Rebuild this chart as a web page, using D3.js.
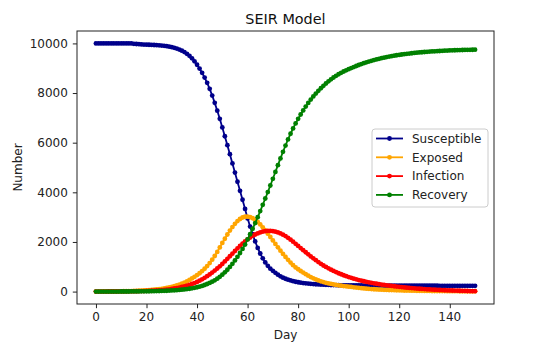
<!DOCTYPE html>
<html>
<head>
<meta charset="utf-8">
<script src="https://cdn.jsdelivr.net/npm/d3@7"></script>
<style>
  body { margin: 0; background: #fff; }
  svg { font-family: "DejaVu Sans", sans-serif; }
</style>
</head>
<body>
<div id="chart-container"><svg></svg></div>
<script>
// values, one per day (0..150)
const susceptible = [
  9999,9999,9999,9999,9999,9999,9999,9999,9999,9999,
  9999,9999,9999,9999,9999,9985,9976,9968,9961,9955,
  9950,9945,9940,9935,9929,9922,9913,9902,9888,9870,
  9848,9822,9790,9752,9706,9650,9582,9500,9400,9280,
  9140,8985,8815,8625,8410,8170,7900,7605,7290,6960,
  6615,6260,5900,5535,5165,4795,4425,4060,3700,3330,
  2950,2620,2310,2020,1760,1535,1340,1175,1040,925,
  835,755,680,615,562,518,480,448,420,397,
  377,360,345,332,321,311,302,295,288,282,
  277,272,268,264,261,258,256,254,252,250,
  249,248,247,246,246,245,244,244,243,243,
  242,242,241,241,240,240,240,239,239,239,
  238,238,238,237,237,237,237,236,236,236,
  236,235,235,235,235,235,234,234,234,234,
  234,234,233,233,233,233,233,233,233,232,
  232
];
const exposed = [
  0,1,2,3,4,5,6,7,8,10,
  12,14,16,19,22,25,29,33,38,44,
  50,57,65,74,84,96,110,126,144,165,
  190,215,245,280,320,365,415,470,530,595,
  665,740,825,920,1030,1150,1285,1435,1600,1780,
  1960,2130,2300,2460,2600,2730,2840,2925,2985,3015,
  3020,3000,2955,2890,2805,2705,2590,2465,2335,2200,
  2060,1920,1785,1650,1520,1395,1280,1170,1065,975,
  900,830,765,700,640,585,535,490,450,415,
  383,355,330,308,288,270,253,238,224,211,
  199,186,173,161,150,139,129,119,110,102,
  95,89,83,78,73,68,64,60,56,53,
  50,47,44,42,40,38,36,34,32,30,
  28,27,25,24,23,22,21,20,19,18,
  17,16,15,15,14,13,13,12,12,11,
  11
];
const infection = [
  1,1,2,2,2,3,3,4,4,5,
  6,7,8,9,10,12,14,16,19,22,
  25,29,33,38,44,50,58,67,78,92,
  110,125,143,163,185,210,238,270,305,345,
  390,440,495,555,620,690,765,845,930,1020,
  1115,1215,1320,1425,1530,1635,1740,1840,1935,2025,
  2105,2180,2245,2300,2345,2385,2415,2435,2445,2445,
  2435,2415,2385,2345,2295,2235,2165,2090,2010,1925,
  1840,1755,1670,1585,1500,1418,1340,1264,1190,1120,
  1052,992,936,882,832,785,740,698,658,621,
  586,553,522,493,466,441,417,394,373,353,
  334,316,299,283,268,254,241,228,215,203,
  191,180,169,159,149,140,131,123,115,107,
  100,93,87,81,75,70,65,60,55,51,
  47,43,40,36,33,30,27,24,21,18,
  15
];
const recovery = [
  0,0,0,0,1,1,1,2,2,2,
  3,3,4,4,5,6,7,8,9,10,
  12,13,15,17,20,23,26,30,34,39,
  45,51,58,66,76,87,100,115,132,152,
  175,200,230,265,305,350,400,455,520,595,
  680,775,880,995,1120,1255,1400,1555,1720,1895,
  2100,2310,2530,2760,3000,3245,3495,3750,4010,4275,
  4545,4820,5095,5365,5630,5885,6130,6360,6575,6775,
  6960,7135,7300,7455,7600,7735,7862,7980,8090,8193,
  8290,8385,8472,8552,8626,8694,8757,8815,8868,8915,
  8960,9005,9048,9090,9130,9168,9204,9238,9270,9300,
  9328,9355,9380,9404,9427,9448,9468,9487,9505,9522,
  9538,9553,9567,9580,9592,9604,9615,9625,9635,9644,
  9653,9661,9669,9676,9683,9689,9695,9701,9706,9711,
  9716,9720,9724,9728,9731,9734,9737,9740,9742,9744,
  9746
];
const seriesNames = ["Susceptible", "Exposed", "Infection", "Recovery"];
const seriesColors = ["#00008b", "#ffa500", "#ff0000", "#008000"];
const xTicks = [0, 20, 40, 60, 80, 100, 120, 140];
const yTicks = [0, 2000, 4000, 6000, 8000, 10000];

const width = 552, height = 354;
const margin = { top: 31, right: 58, bottom: 50, left: 77 };
const innerWidth = width - margin.left - margin.right;
const innerHeight = height - margin.top - margin.bottom;

const allSeries = [susceptible, exposed, infection, recovery];

const xScale = d3.scaleLinear().domain([-7.5, 157.5]).range([0, innerWidth]);
const yScale = d3.scaleLinear().domain([-500, 10500]).range([innerHeight, 0]);

const svg = d3.select("#chart-container").select("svg")
  .attr("width", width).attr("height", height);

svg.append("text").attr("x", margin.left + innerWidth / 2).attr("y", 24)
  .attr("text-anchor", "middle").style("font-size", "14.4px").attr("fill", "#111")
  .text("SEIR Model");

const g = svg.append("g").attr("transform", `translate(${margin.left},${margin.top})`);

// axes
const xAxis = g.append("g").attr("class", "x-axis").attr("transform", `translate(0,${innerHeight})`)
  .call(d3.axisBottom(xScale).tickValues(xTicks).tickSize(4.2).tickPadding(4.2).tickFormat(d3.format("d")));
const yAxis = g.append("g").attr("class", "y-axis")
  .call(d3.axisLeft(yScale).tickValues(yTicks).tickSize(4.2).tickPadding(5).tickFormat(d3.format("d")));
[xAxis, yAxis].forEach(a => {
  a.attr("font-size", null).attr("font-family", null).attr("text-anchor", null).attr("fill", null);
  a.select(".domain").remove();
  a.selectAll("line").attr("stroke", "#222").attr("stroke-width", 1);
  a.selectAll("text").attr("fill", "#222").style("font-size", "12px").attr("dy", null);
});
// lift the tick labels out of their tick groups, placed by the same scales
xAxis.selectAll(".tick text").each(function (d) {
  d3.select(this).attr("text-anchor", "middle").attr("x", xScale(d)).attr("y", 17.4);
  xAxis.node().appendChild(this);
});
yAxis.selectAll(".tick text").each(function (d) {
  d3.select(this).attr("text-anchor", "end").attr("x", -9.2).attr("y", yScale(d) + 4.3);
  yAxis.node().appendChild(this);
});

// series lines with dot markers
const line = d3.line().x((d, i) => xScale(i)).y(d => yScale(d));
allSeries.forEach((data, k) => {
  const sg = g.append("g").attr("class", "series-" + k);
  sg.append("path").attr("d", line(data)).attr("fill", "none")
    .attr("stroke", seriesColors[k]).attr("stroke-width", 1.8);
  sg.selectAll("circle").data(data).join("circle")
    .attr("cx", (d, i) => xScale(i)).attr("cy", d => yScale(d))
    .attr("r", 2.4).attr("fill", seriesColors[k]);
});

// frame
g.append("rect").attr("x", 0).attr("y", 0).attr("width", innerWidth).attr("height", innerHeight)
  .attr("fill", "none").attr("stroke", "#222").attr("stroke-width", 1);

// axis labels
svg.append("text").attr("x", margin.left + innerWidth / 2).attr("y", 339)
  .attr("text-anchor", "middle").style("font-size", "12px").attr("fill", "#222").text("Day");
svg.append("text").attr("transform", `translate(22,${margin.top + innerHeight / 2}) rotate(-90)`)
  .attr("text-anchor", "middle").style("font-size", "12px").attr("fill", "#222").text("Number");

// legend
const legend = svg.append("g").attr("transform", "translate(372,129)");
legend.append("rect").attr("width", 116).attr("height", 78).attr("rx", 3)
  .attr("fill", "#fff").attr("fill-opacity", 0.8).attr("stroke", "#ccc").attr("stroke-width", 1);
seriesNames.forEach((name, k) => {
  const yy = 9.5 + k * 18.8;
  legend.append("line").attr("x1", 4).attr("x2", 31).attr("y1", yy).attr("y2", yy)
    .attr("stroke", seriesColors[k]).attr("stroke-width", 1.8);
  legend.append("circle").attr("cx", 17.5).attr("cy", yy).attr("r", 2.4).attr("fill", seriesColors[k]);
  legend.append("text").attr("x", 40).attr("y", yy + 4.3).style("font-size", "12px")
    .attr("fill", "#222").text(name);
});
</script>
</body>
</html>
